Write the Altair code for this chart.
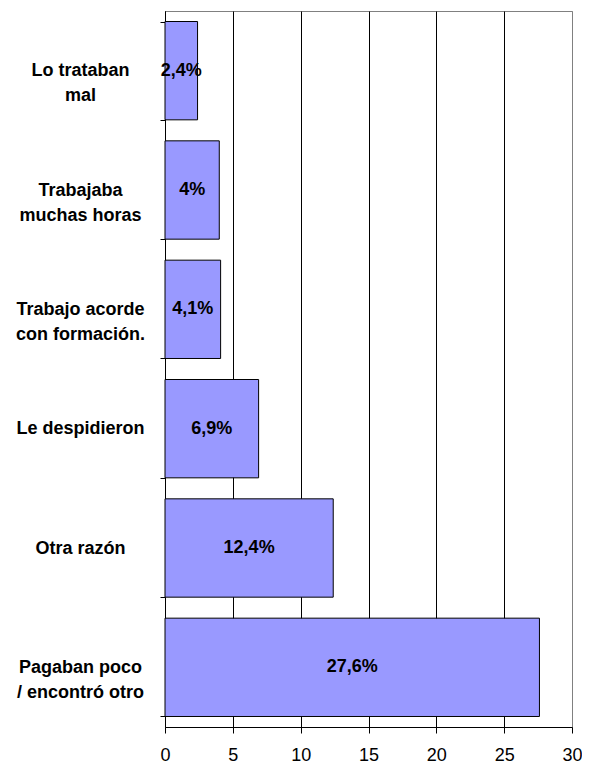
import altair as alt
import pandas as pd

categories = [
    "Lo trataban|mal",
    "Trabajaba|muchas horas",
    "Trabajo acorde|con formación.",
    "Le despidieron",
    "Otra razón",
    "Pagaban poco|/ encontró otro",
]
values = [2.4, 4, 4.1, 6.9, 12.4, 27.6]
value_labels = ["2,4%", "4%", "4,1%", "6,9%", "12,4%", "27,6%"]
x_ticks = [0, 5, 10, 15, 20, 25, 30]

df = pd.DataFrame({"cat": categories, "val": values, "lab": value_labels})

FONT = "Liberation Sans"

y_enc = alt.Y(
    "cat:N",
    sort=categories,
    title=None,
    scale=alt.Scale(paddingInner=0.176, paddingOuter=0.088),
    axis=alt.Axis(
        labelExpr="split(datum.label, '|')",
        labelAlign="center",
        labelBaseline="middle",
        labelPadding=80,
        labelLimit=220,
        tickBand="extent",
        tickSize=5,
        tickColor="black",
        domainColor="black",
        labelFont=FONT,
        labelFontSize=18,
        labelFontWeight="bold",
        labelColor="black",
        labelLineHeight=25,
    ),
)

x_axis = alt.Axis(
    values=x_ticks,
    grid=True,
    gridColor={"condition": {"test": "datum.value == 30", "value": "#808080"}, "value": "black"},
    gridWidth=1,
    tickSize=6,
    tickColor="black",
    domainColor="black",
    labelFont=FONT,
    labelFontSize=18,
    labelColor="black",
    labelBaseline="top",
    labelPadding=13,
    labelFlush=False,
)

bars = alt.Chart(df).mark_bar(color="#9999FF", stroke="black", strokeWidth=1).encode(
    x=alt.X("val:Q", title=None, scale=alt.Scale(domain=[0, 30], nice=False), axis=x_axis),
    y=y_enc,
)

text = (
    alt.Chart(df)
    .transform_calculate(mid="datum.val / 2")
    .mark_text(font=FONT, fontSize=18, fontWeight="bold", color="black", baseline="middle", align="center")
    .encode(
        x=alt.X("mid:Q", title=None),
        y=alt.Y("cat:N", sort=categories),
        text="lab:N",
    )
)

chart = (
    alt.layer(bars, text)
    .properties(
        width=407,
        height=716,
        padding={"left": 157, "top": 3, "right": 10, "bottom": 36},
        autosize=alt.AutoSizeParams(type="none"),
        background="white",
    )
    .configure_view(stroke="#808080", strokeWidth=1)
)

chart.save("out.html", embed_options={"renderer": "svg", "actions": False})
